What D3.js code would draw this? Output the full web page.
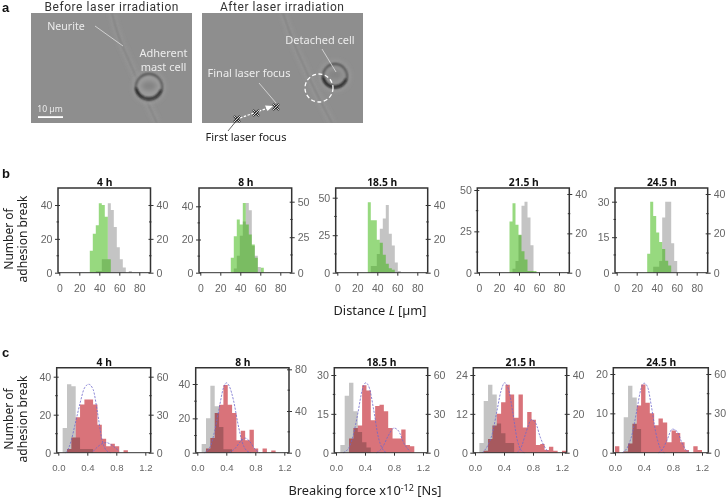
<!DOCTYPE html>
<html><head><meta charset="utf-8">
<script src="https://cdnjs.cloudflare.com/ajax/libs/d3/7.8.5/d3.min.js"></script>
<style>
html,body{margin:0;padding:0;background:#fff}
svg{display:block;filter:blur(0.35px)}
text{font-family:"Liberation Sans",Arial,sans-serif}
.lab{font-family:"Noto Sans",sans-serif;fill:#222}
</style></head><body><svg id="c" width="726" height="500"></svg>
<script>
// ---------- data: histogram counts per bin ----------
const panelTitles = ["4 h","8 h","18.5 h","21.5 h","24.5 h"];
const distanceTicks = [0,20,40,60,80];
const forceTicks = [0,0.4,0.8,1.2];
const distanceBinStart = 30.5, distanceBinWidth = 3, forceBinWidth = 0.06;

const distGreen4  = [13,23,28,41,40,33,8];
const distGrey4   = [0,0,1,1,8,8,41,37,27,15,8,3,0,1];
const distGreen8  = [9,22,32,29,42,29,23,17,9,0,3];
const distGrey8   = [0,3,12,26,36,49,44,19,12,4];
const distGreen18 = [47,35,35,22,20,12,6,3,2];
const distGrey18  = [0,4,4,11,26,32,40,23,16,6,1];
const distGreen21 = [31,42,29,23,13,8,1,1,1];
const distGrey21  = [0,2,6,19,34,36,28,14];
const distGreen24 = [8,30,24,17,13,10,5,3];
const distGrey24  = [0,0,3,3,6,28,36,36,15,6];

const forceGrey4  = [0,13,36,35,8,2,2,2];
const forceRed4   = [0,0,3,12,28,38,42,42,38,22,11,5,7,5,0,2];
const forceGrey8  = [0,5,20,39,27,15,2,2];
const forceRed8   = [0,0,4,14,38,46,65,46,38,12,21,12,22,4,0,4,0,2];
const forceGrey18 = [0,3,22,27,16,8,4,2];
const forceRed18  = [0,0,0,11,19,21,52,48,25,36,37,32,19,11,11,18,6,5];
const forceGrey21 = [0,3,16,21,18,9,6,3,3];
const forceRed21  = [0,0,1,7,14,20,26,35,30,18,30,13,21,17,4,4.5,1.4,3,1,0,1];
const forceGrey24 = [0,0,9,17,14,6];
const forceRed24  = [5,0,1,7,22,36,52,38,30,21,26,23,8,17,15,8,2,0,5,2];

// fitted curves (dashed): [force, count]
const fit4a  = [[0.1,0],[0.12,1],[0.18,10],[0.23,22],[0.3,39],[0.36,51],[0.42,54],[0.48,50],[0.54,32],[0.6,11],[0.66,2],[0.72,0]];
const fit4b  = [[0.48,1],[0.55,5],[0.66,8],[0.76,5],[0.84,1]];
const fit8a  = [[0.1,0],[0.18,6],[0.24,21],[0.3,42],[0.36,62],[0.4,67],[0.44,64],[0.5,50],[0.56,28],[0.62,10],[0.68,2],[0.74,0]];
const fit8b  = [[0.44,0],[0.52,4],[0.6,11],[0.66,14],[0.72,11],[0.8,3],[0.86,0]];
const fit18a = [[0.1,0],[0.18,4],[0.24,14],[0.3,30],[0.36,48],[0.41,54],[0.46,50],[0.52,33],[0.58,13],[0.64,3],[0.7,0]];
const fit18b = [[0.56,0],[0.64,4],[0.72,13],[0.8,19],[0.86,17],[0.94,7],[1.02,1]];
const fit21a = [[0.1,0],[0.18,4],[0.24,10],[0.3,21],[0.36,32],[0.41,36],[0.46,33],[0.52,21],[0.58,7],[0.64,1],[0.68,0]];
const fit21b = [[0.58,0],[0.64,3],[0.7,10],[0.78,17],[0.84,15],[0.9,8],[0.96,3],[1.02,0]];
const fit24a = [[0.1,0],[0.18,5],[0.24,15],[0.3,32],[0.36,49],[0.4,53],[0.45,50],[0.5,36],[0.56,16],[0.62,4],[0.68,0]];
const fit24b = [[0.6,0],[0.66,3],[0.72,10],[0.79,18],[0.86,16],[0.92,8],[0.98,2],[1.04,0]];

// ---------- layout ----------
const svg = d3.select("#c");
const defs = svg.append("defs");
defs.append("filter").attr("id","b1").attr("x","-20%").attr("y","-20%").attr("width","140%").attr("height","140%").append("feGaussianBlur").attr("stdDeviation",0.8);
defs.append("filter").attr("id","b2").attr("x","-30%").attr("y","-30%").attr("width","160%").attr("height","160%").append("feGaussianBlur").attr("stdDeviation",2);
defs.append("clipPath").attr("id","ph1").append("rect").attr("x",31).attr("y",13).attr("width",161).attr("height",110);
defs.append("clipPath").attr("id","ph2").append("rect").attr("x",202).attr("y",13).attr("width",161).attr("height",110);

const distLayout = [
 {l:58,  r:150.5, x0:59.3,  lTicks:[0,20,40], lMax:40, lY:205,   lMinor:[10,30], rTicks:[0,20,40], rMax:40, rY:205,   rMinor:[10,30], g:distGreen4,  k:distGrey4},
 {l:199, r:291.7, x0:200.3, lTicks:[0,20,40], lMax:40, lY:206.3, lMinor:[10,30], rTicks:[0,25,50], rMax:50, rY:201.7, rMinor:[12.5,37.5], g:distGreen8,  k:distGrey8},
 {l:335.7,r:427.7,x0:337.3, lTicks:[0,25,50], lMax:50, lY:197.7, lMinor:[12.5,37.5], rTicks:[0,20,40], rMax:40, rY:205, rMinor:[10,30], g:distGreen18, k:distGrey18},
 {l:477.3,r:569.3,x0:479,   lTicks:[0,25,50], lMax:50, lY:190,   lMinor:[12.5,37.5], rTicks:[0,20,40], rMax:40, rY:194, rMinor:[10,30], g:distGreen21, k:distGrey21},
 {l:615, r:707.7, x0:616.7, lTicks:[0,15,30], lMax:30, lY:201.7, lMinor:[7.5,22.5], rTicks:[0,20,40], rMax:40, rY:194, rMinor:[10,30], g:distGreen24, k:distGrey24}
];
const forceLayout = [
 {l:56.7, r:150.7, x0:58.3, lTicks:[0,20,40], lMax:40, lY:376.7, lMinor:[10,30], rTicks:[0,30,60], rMax:60, rY:376.7, rMinor:[15,45], c:forceRed4,  k:forceGrey4,  f:[fit4a,fit4b]},
 {l:195.7,r:289,   x0:197.3,lTicks:[0,20,40], lMax:40, lY:384,   lMinor:[10,30], rTicks:[0,40,80], rMax:80, rY:369.3, rMinor:[20,60], c:forceRed8,  k:forceGrey8,  f:[fit8a,fit8b]},
 {l:334.3,r:427.7, x0:336,  lTicks:[0,15,30], lMax:30, lY:375,   lMinor:[7.5,22.5], rTicks:[0,30,60], rMax:60, rY:375, rMinor:[15,45], c:forceRed18, k:forceGrey18, f:[fit18a,fit18b]},
 {l:473.3,r:566.7, x0:475,  lTicks:[0,12,24], lMax:24, lY:375,   lMinor:[6,18], rTicks:[0,20,40], rMax:40, rY:375, rMinor:[10,30], c:forceRed21, k:forceGrey21, f:[fit21a,fit21b]},
 {l:613.3,r:708.3, x0:615,  lTicks:[0,10,20], lMax:20, lY:374,   lMinor:[5,15], rTicks:[0,30,60], rMax:60, rY:374, rMinor:[15,45], c:forceRed24, k:forceGrey24, f:[fit24a,fit24b]}
];

function drawAxes(g,p,top,bottom,x,yL,yR,xTicks,fmt,title,xSize,xPad){
  const col="#333", tc="#666";
  g.append("path").attr("d",`M${p.l},${bottom}V${top}H${p.r}V${bottom}`).attr("fill","none").attr("stroke",col).attr("stroke-width",1.5);
  g.append("line").attr("x1",p.l).attr("x2",p.r).attr("y1",bottom).attr("y2",bottom).attr("stroke",col).attr("stroke-width",1);
  const style=(a,sz)=>{a.select(".domain").remove();a.selectAll("line").attr("stroke",col).attr("stroke-width",1);a.selectAll("text").attr("fill",tc).attr("font-size",sz);};
  const ax=g.append("g").attr("transform",`translate(0,${bottom})`).call(d3.axisBottom(x).tickValues(xTicks).tickFormat(fmt).tickSize(3).tickPadding(xPad));
  style(ax,xSize);
  const al=g.append("g").attr("transform",`translate(${p.l},0)`).call(d3.axisLeft(yL).tickValues(p.lTicks).tickSize(4).tickPadding(1.5));
  style(al,10.6); al.selectAll("line").attr("x2",-3).attr("x1",2);
  const ar=g.append("g").attr("transform",`translate(${p.r},0)`).call(d3.axisRight(yR).tickValues(p.rTicks).tickSize(4).tickPadding(2));
  style(ar,10.6); ar.selectAll("line").attr("x1",-2).attr("x2",3);
  g.selectAll(null).data(p.lMinor).enter().append("line").attr("x1",p.l-1.5).attr("x2",p.l+1).attr("y1",d=>yL(d)).attr("y2",d=>yL(d)).attr("stroke",col);
  g.selectAll(null).data(p.rMinor).enter().append("line").attr("x1",p.r-1.5).attr("x2",p.r+1).attr("y1",d=>yR(d)).attr("y2",d=>yR(d)).attr("stroke",col);
  g.append("text").attr("x",(p.l+p.r)/2+.5).attr("y",top-2).attr("text-anchor","middle").attr("font-size",10.3).attr("font-weight","700").style("font-family",'"Noto Sans",sans-serif').attr("fill","#111").text(title);
}
function bars(g,vals,start,w,x,y,fill,blend,alpha){
  const pts=vals.map((v,i)=>[start+i*w,v]).concat([[start+vals.length*w,0]]);
  const area=d3.area().x(d=>x(d[0])).y0(y(0)).y1(d=>y(d[1])).curve(d3.curveStepAfter);
  g.append("path").attr("d",area(pts)).attr("fill",fill).attr("fill-opacity",alpha||1).style("mix-blend-mode",blend||"normal");
}
// ---------- panel b ----------
{
 const top=188,bottom=272.7;
 distLayout.forEach((p,i)=>{
  const g=svg.append("g");
  const x=d3.scaleLinear().domain([0,80]).range([p.x0,p.x0+80]);
  const yL=d3.scaleLinear().domain([0,p.lMax]).range([bottom,p.lY]);
  const yR=d3.scaleLinear().domain([0,p.rMax]).range([bottom,p.rY]);
  bars(g,p.k,distanceBinStart,distanceBinWidth,x,yR,"#c4c4c4");
  bars(g,p.g,distanceBinStart,distanceBinWidth,x,yL,"#2fb300","normal",0.5);
  drawAxes(g,p,top,bottom,x,yL,yR,distanceTicks,d3.format("d"),panelTitles[i],10.4,8.6);
 });
}
// ---------- panel c ----------
{
 const top=367.7,bottom=452.7;
 forceLayout.forEach((p,i)=>{
  const g=svg.append("g");
  const x=d3.scaleLinear().domain([0,1.2]).range([p.x0,p.x0+87]);
  const yL=d3.scaleLinear().domain([0,p.lMax]).range([bottom,p.lY]);
  const yR=d3.scaleLinear().domain([0,p.rMax]).range([bottom,p.rY]);
  bars(g,p.k,0,forceBinWidth,x,yL,"#c4c4c4");
  bars(g,p.c,0,forceBinWidth,x,yR,"#d9737a","multiply");
  const line=d3.line().x(d=>x(d[0])).y(d=>yR(d[1])).curve(d3.curveMonotoneX);
  p.f.forEach(f=>{
    g.append("path").attr("d",line(f)).attr("fill","none").attr("stroke","#6f68cc").attr("stroke-width",.8).attr("stroke-dasharray","2.2 1.3");
  });
  drawAxes(g,p,top,bottom,x,yL,yR,forceTicks,d3.format(".1f"),panelTitles[i],9.6,8.5);
 });
}
// ---------- axis titles ----------
function ylab(cy){
  const t=svg.append("g").attr("transform",`translate(0,${cy}) rotate(-90)`);
  t.append("text").attr("class","lab").attr("x",0).attr("y",13).attr("text-anchor","middle").attr("font-size",12).text("Number of");
  t.append("text").attr("class","lab").attr("x",0).attr("y",27).attr("text-anchor","middle").attr("font-size",12).text("adhesion break");
}
ylab(239); ylab(419);
const xl1=svg.append("text").attr("class","lab").attr("x",380).attr("y",314.5).attr("text-anchor","middle").attr("font-size",12.8);
xl1.append("tspan").text("Distance ");xl1.append("tspan").attr("font-style","italic").text("L");xl1.append("tspan").text(" [µm]");
const xl2=svg.append("text").attr("class","lab").attr("x",365).attr("y",495).attr("text-anchor","middle").attr("font-size",12.8);
xl2.append("tspan").text("Breaking force x10");xl2.append("tspan").attr("dy",-4).attr("font-size",9).text("-12");xl2.append("tspan").attr("dy",4).text(" [Ns]");
[["a",12],["b",178],["c",357]].forEach(([t,y])=>svg.append("text").attr("x",2).attr("y",y).attr("font-size",13).attr("font-weight","700").attr("fill","#111").text(t));

// ---------- panel a: the two micrographs ----------
function photo(clip,x){
  const g=svg.append("g").attr("clip-path",`url(#${clip})`);
  g.append("rect").attr("x",x).attr("y",13).attr("width",161).attr("height",110).attr("fill","#8e8e8e");
  return g;
}
function neurite(g,d){
  g.append("path").attr("d",d).attr("fill","none").attr("stroke","#9c9c9c").attr("stroke-width",4).attr("filter","url(#b2)");
  g.append("path").attr("d",d).attr("fill","none").attr("stroke","#787878").attr("stroke-width",1.3).attr("filter","url(#b1)");
}
function cell(g,cx,cy,r,fillC){
  g.append("circle").attr("cx",cx).attr("cy",cy).attr("r",r+1).attr("fill","#9e9e9e").attr("filter","url(#b2)");
  g.append("circle").attr("cx",cx).attr("cy",cy).attr("r",r-2).attr("fill",fillC).attr("stroke","#3a3a3a").attr("stroke-width",1.8).attr("filter","url(#b1)");
  g.append("path").attr("d",`M${cx-r+2},${cy+1}A${r-2},${r-2} 0 0 0 ${cx+r-3},${cy+3}`).attr("fill","none").attr("stroke","#151515").attr("stroke-width",2).attr("filter","url(#b1)");
  g.append("ellipse").attr("cx",cx).attr("cy",cy-1).attr("rx",r/2).attr("ry",r/3).attr("fill","#848484").attr("filter","url(#b2)");
}
const p1=photo("ph1",31), p2=photo("ph2",202);
neurite(p1,"M112,13C116,30 120,42 126,54C134,72 146,100 157,123");
neurite(p2,"M283,13C290,34 296,50 304,66C314,90 324,108 332,123");
cell(p1,149,87,15,"#9c9c9c"); cell(p2,335,76,14,"#939393");
const ann=(s,x,y,fs,c,a)=>svg.append("text").attr("class","lab").attr("x",x).attr("y",y).attr("text-anchor",a||"middle").attr("font-size",fs).style("fill",c).text(s);
const W="#ececec";
ann("Before laser irradiation",111.5,11.2,12,"#333").style("font-family","Roboto,sans-serif").attr("textLength",134).attr("lengthAdjust","spacing");
ann("After laser irradiation",282,11.2,12,"#333").style("font-family","Roboto,sans-serif").attr("textLength",124).attr("lengthAdjust","spacing");
ann("Neurite",66,30,10.6,W); ann("Adherent",163.5,57,11,W); ann("mast cell",163.5,71,11,W);
ann("10 µm",50,112,8.6,W);
ann("Detached cell",320,44,11,W); ann("Final laser focus",249,77,11,W);
ann("First laser focus",246,141,11,"#222");
const ln=(a,b,c,d,col,w)=>svg.append("line").attr("x1",a).attr("y1",b).attr("x2",c).attr("y2",d).attr("stroke",col).attr("stroke-width",w||.7);
ln(95,26,123,46,W); ln(322,49,336,72,W); ln(259,83,276,103,W); ln(237,120,228,131,"#222");
svg.append("rect").attr("x",38).attr("y",116.2).attr("width",25).attr("height",1.8).attr("fill","#fff");
svg.append("circle").attr("cx",319).attr("cy",88).attr("r",14).attr("fill","none").attr("stroke","#fff").attr("stroke-width",1.3).attr("stroke-dasharray","4 2.5");
svg.append("line").attr("x1",240).attr("y1",118).attr("x2",268).attr("y2",108).attr("stroke","#fff").attr("stroke-width",1.2).attr("stroke-dasharray","2.5 1.5");
svg.append("path").attr("d","M273,106L265,105.5L267.5,111Z").attr("fill","#fff");
[[237,119],[256,113],[276,107]].forEach(([x,y])=>{
  [[-3,-3,3,3],[-3,3,3,-3]].forEach(([a,b,c,d])=>{
    ln(x+a,y+b,x+c,y+d,"#222",2);ln(x+a,y+b,x+c,y+d,"#fff",.8);
  });
});
</script></body></html>
